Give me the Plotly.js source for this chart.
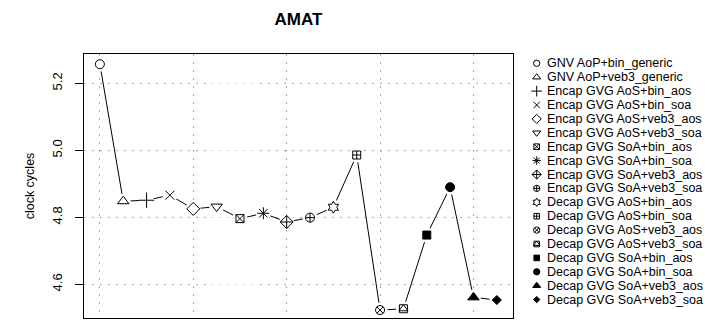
<!DOCTYPE html>
<html>
<head>
<meta charset="utf-8">
<script src="https://cdn.plot.ly/plotly-3.0.1.min.js"></script>
<style>
  html, body { margin: 0; padding: 0; background: #fff; }
  #chart { width: 705px; height: 326px; }
</style>
</head>
<body>
<div id="chart"></div>
<script>
// Variants measured, in plotting order
const categories = [
  "GNV AoP+bin_generic",
  "GNV AoP+veb3_generic",
  "Encap GVG AoS+bin_aos",
  "Encap GVG AoS+bin_soa",
  "Encap GVG AoS+veb3_aos",
  "Encap GVG AoS+veb3_soa",
  "Encap GVG SoA+bin_aos",
  "Encap GVG SoA+bin_soa",
  "Encap GVG SoA+veb3_aos",
  "Encap GVG SoA+veb3_soa",
  "Decap GVG AoS+bin_aos",
  "Decap GVG AoS+bin_soa",
  "Decap GVG AoS+veb3_aos",
  "Decap GVG AoS+veb3_soa",
  "Decap GVG SoA+bin_aos",
  "Decap GVG SoA+bin_soa",
  "Decap GVG SoA+veb3_aos",
  "Decap GVG SoA+veb3_soa"
];

// Average memory access time (clock cycles)
const cycles = [
  5.257, 4.848, 4.851, 4.866, 4.825, 4.832, 4.796, 4.812, 4.786,
  4.799, 4.830, 4.986, 4.523, 4.527, 4.747, 4.890, 4.561, 4.553
];

// Point symbols, one per variant
const symbols = [
  "circle-open", "triangle-up-open", "cross-thin-open", "x-thin-open",
  "diamond-open", "triangle-down-open", "square-x-open", "asterisk-open",
  "diamond-cross-open", "circle-cross-open", "hexagram-open", "square-cross-open",
  "circle-x-open", "square-open", "square", "circle", "triangle-up", "diamond"
];
const symbolSizes = [9, 10, 11, 9, 10, 10, 8, 10, 10, 9, 9, 8, 9, 8, 8, 9, 10, 7];
// Second symbol drawn on top of the first (square with inner triangle)
const overlaySymbols = [null, null, null, null, null, null, null, null, null,
  null, null, null, null, "triangle-up-open", null, null, null, null];

const xs = cycles.map((_, i) => i + 1);
const overlayIdx = overlaySymbols.map((s, i) => s ? i : -1).filter(i => i >= 0);

const FONT = "Liberation Sans, Arial, Helvetica, sans-serif";
const mainRight = 512.7, plotLeft = 84, plotW = 705 - plotLeft;
const splitFrac = (mainRight - plotLeft) / plotW;
const KEY_SCALE = 0.7;
const KEY_SYM_X = 24, KEY_TEXT_X = 32.5;

function markerStyle(sym, size) {
  return { symbol: sym, size: size, color: "#000", opacity: 1,
           line: { color: "#000", width: 1 } };
}

const traces = [
  // connecting line
  { x: xs, y: cycles, mode: "lines", line: { color: "#000", width: 1 },
    xaxis: "x", yaxis: "y", hoverinfo: "skip", showlegend: false },
  // white discs leave a gap in the line around every point
  { x: xs, y: cycles, mode: "markers",
    marker: { symbol: "circle", size: 15, color: "#fff", opacity: 1, line: { width: 0 } },
    xaxis: "x", yaxis: "y", hoverinfo: "skip", showlegend: false },
  // the points
  { x: xs, y: cycles, mode: "markers", marker: markerStyle(symbols, symbolSizes),
    xaxis: "x", yaxis: "y", hoverinfo: "skip", showlegend: false },
  { x: overlayIdx.map(i => xs[i]), y: overlayIdx.map(i => cycles[i]), mode: "markers",
    marker: markerStyle(overlayIdx.map(i => overlaySymbols[i]), 8),
    xaxis: "x", yaxis: "y", hoverinfo: "skip", showlegend: false },
  // key symbols
  { x: categories.map(() => KEY_SYM_X), y: categories.map((_, i) => i), mode: "markers",
    marker: markerStyle(symbols, symbolSizes.map(s => s * KEY_SCALE)),
    xaxis: "x2", yaxis: "y2", hoverinfo: "skip", showlegend: false },
  { x: overlayIdx.map(() => KEY_SYM_X), y: overlayIdx, mode: "markers",
    marker: markerStyle(overlayIdx.map(i => overlaySymbols[i]), 8 * KEY_SCALE),
    xaxis: "x2", yaxis: "y2", hoverinfo: "skip", showlegend: false }
];

const keyAnnotations = categories.map((c, i) => ({
  text: c, x: KEY_TEXT_X, y: i, xref: "x2", yref: "y2",
  xanchor: "left", yanchor: "middle", showarrow: false,
  font: { family: FONT, size: 12.5, color: "#000" }
}));

const layout = {
  width: 705, height: 326,
  margin: { l: plotLeft, r: 0, t: 54, b: 8 },
  paper_bgcolor: "#fff", plot_bgcolor: "#fff",
  showlegend: false,
  font: { family: FONT, size: 12.5, color: "#000" },
  title: { text: "<b>AMAT</b>", font: { family: FONT, size: 17, color: "#000" },
           x: 298.5 / 705, xanchor: "center", y: 1 - 19 / 326, yanchor: "middle" },
  xaxis: {
    domain: [0, splitFrac], range: [0.32, 18.68],
    showline: true, mirror: true, linecolor: "#000", linewidth: 1,
    showticklabels: false, ticks: "", zeroline: false,
    showgrid: true, tick0: 1, dtick: 4,
    gridcolor: "#a8a8a8", gridwidth: 1, griddash: "1.5px,6.5px"
  },
  yaxis: {
    domain: [0, 1], range: [4.4994, 5.2875],
    showline: true, mirror: true, linecolor: "#000", linewidth: 1,
    ticks: "outside", ticklen: 8, tickcolor: "#000", tickwidth: 1,
    tickvals: [4.6, 4.8, 5.0, 5.2], tickformat: ".1f", tickangle: -90,
    ticklabelstandoff: 8,
    tickfont: { family: FONT, size: 13, color: "#000" },
    zeroline: false, showgrid: true,
    gridcolor: "#a8a8a8", gridwidth: 1, griddash: "1.5px,6.5px",
    title: { text: "clock cycles", font: { family: FONT, size: 12.5, color: "#000" }, standoff: 12 }
  },
  xaxis2: { domain: [splitFrac, 1], range: [0, 705 - mainRight], anchor: "y2", visible: false, fixedrange: true },
  yaxis2: { domain: [0, 1], range: [(318 - 63.3) / 13.9, -(63.3 - 54) / 13.9], anchor: "x2", visible: false, fixedrange: true },
  annotations: keyAnnotations
};

Plotly.newPlot("chart", traces, layout, { staticPlot: true, displayModeBar: false });
</script>
</body>
</html>
